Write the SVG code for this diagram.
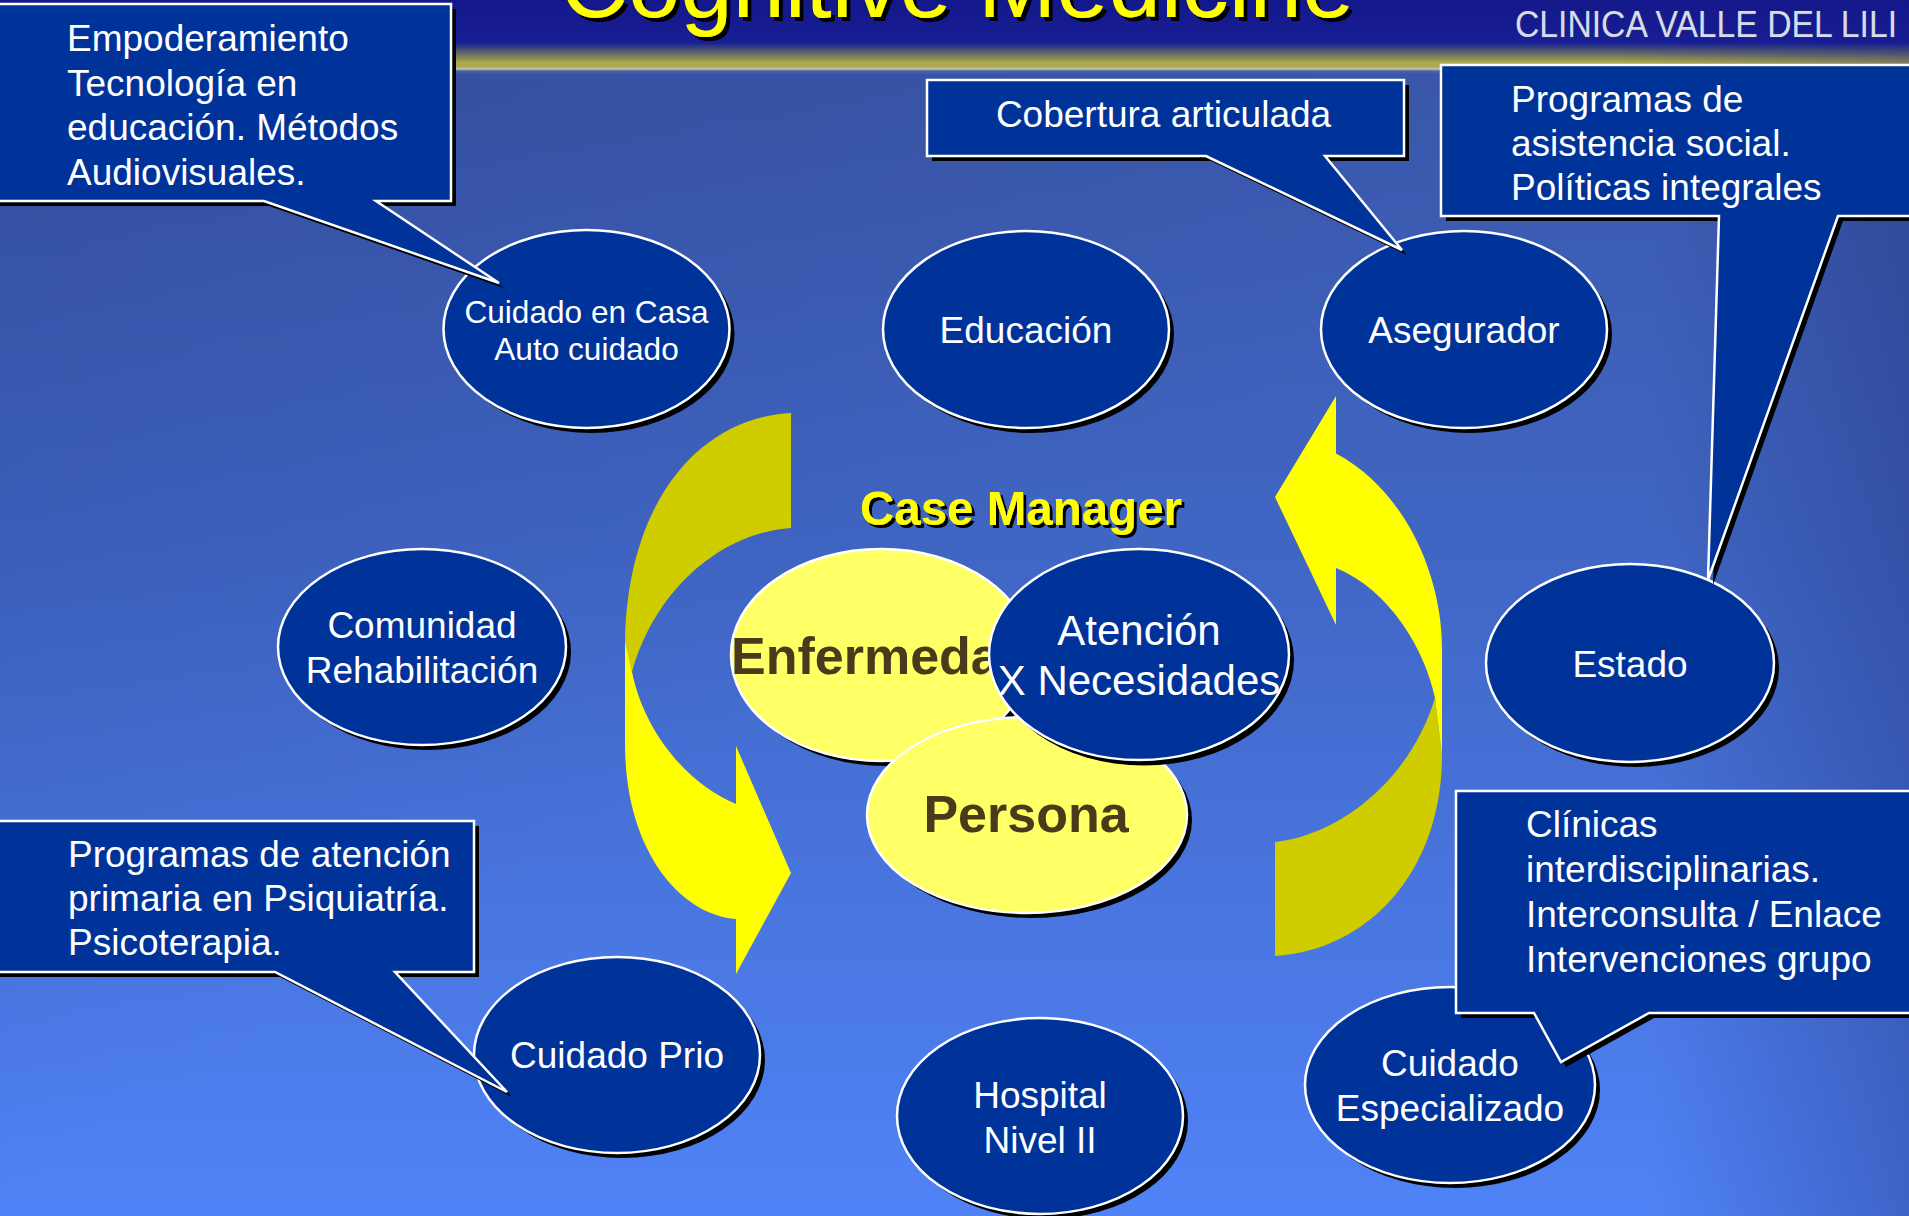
<svg xmlns="http://www.w3.org/2000/svg" width="1909" height="1216" viewBox="0 0 1909 1216">
  <defs>
    <linearGradient id="bodyGrad" x1="0" y1="0" x2="0" y2="1">
      <stop offset="0" stop-color="#3a56a8"/>
      <stop offset="0.45" stop-color="#4066c4"/>
      <stop offset="1" stop-color="#5083f7"/>
    </linearGradient>
    <linearGradient id="rightShade" x1="0" y1="0" x2="1" y2="0">
      <stop offset="0" stop-color="#1c2a70" stop-opacity="0"/>
      <stop offset="1" stop-color="#1c2a70" stop-opacity="0.35"/>
    </linearGradient>
    <linearGradient id="leftShade" x1="0" y1="0" x2="1" y2="1">
      <stop offset="0" stop-color="#1c2a70" stop-opacity="0.25"/>
      <stop offset="0.5" stop-color="#1c2a70" stop-opacity="0"/>
    </linearGradient>
    <linearGradient id="headGrad" x1="0" y1="0" x2="0" y2="1">
      <stop offset="0" stop-color="#13178a"/>
      <stop offset="0.58" stop-color="#181f94"/>
      <stop offset="0.74" stop-color="#6d7360"/>
      <stop offset="0.85" stop-color="#b0ac48"/>
      <stop offset="0.905" stop-color="#a8a858"/>
      <stop offset="0.93" stop-color="#c8ccb0"/>
      <stop offset="0.96" stop-color="#4a64a8"/>
      <stop offset="1" stop-color="#3c58a8"/>
    </linearGradient>
    <linearGradient id="headEdge" x1="0" y1="0" x2="1" y2="0">
      <stop offset="0" stop-color="#13178a" stop-opacity="0.6"/>
      <stop offset="0.2" stop-color="#13178a" stop-opacity="0"/>
      <stop offset="0.85" stop-color="#13178a" stop-opacity="0"/>
      <stop offset="1" stop-color="#13178a" stop-opacity="0.3"/>
    </linearGradient>
    <filter id="ds4" x="-5%" y="-20%" width="110%" height="140%">
      <feDropShadow dx="4" dy="4" stdDeviation="0" flood-color="#000000" flood-opacity="1"/>
    </filter>
    <filter id="ds3" x="-5%" y="-20%" width="110%" height="140%">
      <feDropShadow dx="3" dy="3" stdDeviation="0" flood-color="#000000" flood-opacity="1"/>
    </filter>
  </defs>
  <style>
    .sh { fill: #000000; }
    .blue { fill: #003399; stroke: #ffffff; stroke-width: 2.5; }
    .yel { fill: #ffff66; stroke: #ffffff; stroke-width: 2.5; }
    .call { fill: #003399; stroke: #ffffff; stroke-width: 2.5; stroke-linejoin: miter; }
    .t { font-family: "Liberation Sans", Arial, sans-serif; fill: #ffffff; font-size: 37px; }
    .c { text-anchor: middle; }
    .b { font-family: "Liberation Sans", Arial, sans-serif; font-weight: bold; fill: #4a3a1c; font-size: 52px; }
    .olive { fill: #cfcc00; }
    .bright { fill: #ffff00; }
  </style>

  <!-- background -->
  <rect x="0" y="0" width="1909" height="1216" fill="url(#bodyGrad)"/>
  <rect x="1650" y="0" width="259" height="1216" fill="url(#rightShade)"/>
  <rect x="0" y="0" width="1909" height="1216" fill="url(#leftShade)"/>
  <rect x="0" y="0" width="1909" height="74" fill="url(#headGrad)"/>
  <rect x="0" y="0" width="1909" height="74" fill="url(#headEdge)"/>

  <!-- title -->
  <g id="title">
    <text x="560" y="17" font-family="Liberation Sans, Arial, sans-serif" font-size="94" fill="#ffff00" filter="url(#ds4)">Cognitive Medicine</text>
  </g>
  <g id="logo">
    <text x="1515" y="37" font-family="Liberation Sans, Arial, sans-serif" font-size="36" fill="#d6dbef" stroke="#2a3070" stroke-width="1.2" paint-order="stroke" textLength="382" lengthAdjust="spacingAndGlyphs">CLINICA VALLE DEL LILI</text>
  </g>

  <!-- connectors: curved yellow arrows -->
  <g id="connectors">
    <path class="olive" d="M791,413 C700,418 628,500 625,640 L632,672 C655,590 720,533 791,528 Z"/>
    <path class="bright" d="M625,640 L625,744 C625,850 680,915 736,919 L736,974 L791,873 L736,746 L736,804 C690,785 645,735 632,672 Z"/>
    <path class="olive" d="M1435,698 L1442,755 C1442,870 1370,950 1275,956 L1275,842 C1340,835 1410,780 1435,698 Z"/>
    <path class="bright" d="M1275,497 L1336,396 L1336,453.5 C1405,490 1442,575 1442,648 L1442,755 L1435,698 C1425,650 1390,590 1336,568 L1336,625 Z"/>
  </g>

  <!-- central cluster -->
  <g id="case-manager">
    <text x="1021" y="525" text-anchor="middle" font-family="Liberation Sans, Arial, sans-serif" font-weight="bold" font-size="47.5" fill="#ffff00" filter="url(#ds3)">Case Manager</text>
  </g>
  <g id="node-enfermedad">
    <ellipse class="sh" cx="886" cy="660" rx="150" ry="106"/>
    <ellipse class="yel" cx="881" cy="655" rx="150" ry="106"/>
    <text class="b" x="731" y="674">Enfermedad</text>
  </g>
  <g id="node-persona">
    <ellipse class="sh" cx="1032" cy="820" rx="160" ry="98"/>
    <ellipse class="yel" cx="1027" cy="815" rx="160" ry="98"/>
    <text class="b c" x="1026" y="832">Persona</text>
  </g>
  <g id="node-atencion">
    <ellipse class="sh" cx="1144" cy="660" rx="150" ry="105.5"/>
    <ellipse class="blue" cx="1139" cy="654.5" rx="150" ry="105.5"/>
    <text class="t c" x="1139" style="font-size:42px"><tspan x="1139" y="644.5">Atención</tspan><tspan x="1139" y="694.5">X Necesidades</tspan></text>
  </g>

  <!-- outer nodes -->
  <g id="node-cuidado-casa">
    <ellipse class="sh" cx="591.5" cy="334" rx="143" ry="99"/>
    <ellipse class="blue" cx="586.5" cy="329" rx="143" ry="99"/>
    <text class="t c" style="font-size:31.6px"><tspan x="586.5" y="323">Cuidado en Casa</tspan><tspan x="586.5" y="360">Auto cuidado</tspan></text>
  </g>
  <g id="node-educacion">
    <ellipse class="sh" cx="1031" cy="334.5" rx="143" ry="98.5"/>
    <ellipse class="blue" cx="1026" cy="329.5" rx="143" ry="98.5"/>
    <text class="t c" x="1026" y="343">Educación</text>
  </g>
  <g id="node-asegurador">
    <ellipse class="sh" cx="1469" cy="334.5" rx="143" ry="98.5"/>
    <ellipse class="blue" cx="1464" cy="329.5" rx="143" ry="98.5"/>
    <text class="t c" x="1464" y="343">Asegurador</text>
  </g>
  <g id="node-comunidad">
    <ellipse class="sh" cx="427" cy="652" rx="144" ry="98"/>
    <ellipse class="blue" cx="422" cy="647" rx="144" ry="98"/>
    <text class="t c"><tspan x="422" y="638">Comunidad</tspan><tspan x="422" y="683">Rehabilitación</tspan></text>
  </g>
  <g id="node-estado">
    <ellipse class="sh" cx="1635" cy="668" rx="144" ry="99"/>
    <ellipse class="blue" cx="1630" cy="663" rx="144" ry="99"/>
    <text class="t c" x="1630" y="677">Estado</text>
  </g>
  <g id="node-cuidado-prio">
    <ellipse class="sh" cx="622" cy="1060" rx="143" ry="98"/>
    <ellipse class="blue" cx="617" cy="1055" rx="143" ry="98"/>
    <text class="t c" x="617" y="1068">Cuidado Prio</text>
  </g>
  <g id="node-hospital">
    <ellipse class="sh" cx="1045" cy="1121" rx="143" ry="98"/>
    <ellipse class="blue" cx="1040" cy="1116" rx="143" ry="98"/>
    <text class="t c"><tspan x="1040" y="1108">Hospital</tspan><tspan x="1040" y="1153">Nivel II</tspan></text>
  </g>
  <g id="node-cuidado-especializado">
    <ellipse class="sh" cx="1455" cy="1090" rx="145" ry="98"/>
    <ellipse class="blue" cx="1450" cy="1085" rx="145" ry="98"/>
    <text class="t c"><tspan x="1450" y="1076">Cuidado</tspan><tspan x="1450" y="1121">Especializado</tspan></text>
  </g>

  <!-- callouts -->
  <g id="callout-empoderamiento">
    <path class="sh" d="M0,9 H456 V206 H381 L504,288 L269,206 H0 Z"/>
    <path class="call" d="M-5,4 H451 V201 H376 L499,283 L264,201 H-5 Z"/>
    <text class="t"><tspan x="67" y="51">Empoderamiento</tspan><tspan x="67" y="95.5">Tecnología en</tspan><tspan x="67" y="140">educación. Métodos</tspan><tspan x="67" y="184.5">Audiovisuales.</tspan></text>
  </g>
  <g id="callout-cobertura">
    <path class="sh" d="M932,85 H1409 V161 H1330 L1407,255 L1211,161 H932 Z"/>
    <path class="call" d="M927,80 H1404 V156 H1325 L1402,250 L1206,156 H927 Z"/>
    <text class="t c" x="1163.5" y="127">Cobertura articulada</text>
  </g>
  <g id="callout-asistencia">
    <path class="sh" d="M1446,70 H1920 V221 H1843 L1713,585 L1724,221 H1446 Z"/>
    <path class="call" d="M1441,65 H1915 V216 H1838 L1708,580 L1719,216 H1441 Z"/>
    <text class="t"><tspan x="1511" y="112">Programas de</tspan><tspan x="1511" y="156">asistencia social.</tspan><tspan x="1511" y="200">Políticas integrales</tspan></text>
  </g>
  <g id="callout-psiquiatria">
    <path class="sh" d="M0,826 H479 V977 H400 L512,1097 L280,977 H0 Z"/>
    <path class="call" d="M-5,821 H474 V972 H395 L507,1092 L275,972 H-5 Z"/>
    <text class="t"><tspan x="68" y="867">Programas de atención</tspan><tspan x="68" y="911">primaria en Psiquiatría.</tspan><tspan x="68" y="955">Psicoterapia.</tspan></text>
  </g>
  <g id="callout-clinicas">
    <path class="sh" d="M1461,796 H1920 V1018 H1654 L1566,1067 L1539,1018 H1461 Z"/>
    <path class="call" d="M1456,791 H1915 V1013 H1649 L1561,1062 L1534,1013 H1456 Z"/>
    <text class="t"><tspan x="1526" y="837">Clínicas</tspan><tspan x="1526" y="882">interdisciplinarias.</tspan><tspan x="1526" y="927">Interconsulta / Enlace</tspan><tspan x="1526" y="972">Intervenciones grupo</tspan></text>
  </g>
</svg>
